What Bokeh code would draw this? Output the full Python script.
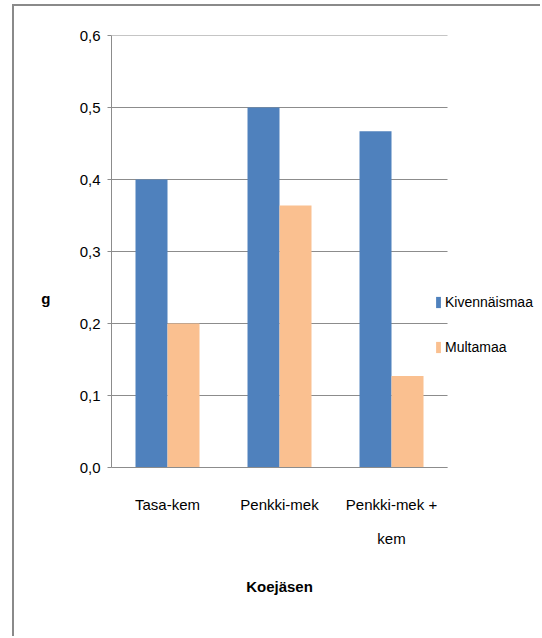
from bokeh.plotting import figure
from bokeh.models import (Range1d, FixedTicker, CustomJSTickFormatter,
                          LinearAxis, Legend, LegendItem)
from bokeh.transform import dodge
from bokeh.embed import file_html
from bokeh.resources import INLINE

# Data
categories = ["Tasa-kem", "Penkki-mek", "Penkki-mek +\nkem"]
kivennaismaa = [0.40, 0.50, 0.467]
multamaa = [0.20, 0.364, 0.127]
series_names = ["Kivennäismaa", "Multamaa"]
y_ticks = [0.0, 0.1, 0.2, 0.3, 0.4, 0.5, 0.6]
y_title = "g"
x_title = "Koejäsen"

FONT = "Liberation Sans"
GRID = "#8c8c8c"
BLUE = "#4f81bd"
ORANGE = "#fac090"

n = len(categories)
positions = [i + 0.5 for i in range(n)]   # category centres on the x scale
x_end = n + 0.848                         # room on the right for the legend

p = figure(
    width=528, height=632,
    x_range=Range1d(0, x_end),
    y_range=Range1d(0, 0.6),
    output_backend="svg", toolbar_location=None,
    min_border_left=97, min_border_right=0,
    min_border_top=29, min_border_bottom=171,
)
# chart-area frame: top and left edges only
p.styles = {"border-top": "2px solid #8a8a8a", "border-left": "2px solid #8a8a8a",
            "margin-left": "12px", "margin-top": "4px"}
p.outline_line_color = None
p.background_fill_color = "white"
p.border_fill_color = "white"

bar_w = 0.2857
src = dict(pos=positions, k=kivennaismaa, m=multamaa)

# Horizontal gridlines limited to the category span
p.xgrid.visible = False
p.ygrid.visible = False
p.segment(x0=0, x1=n, y0=y_ticks, y1=y_ticks, line_color=GRID, line_width=1)

r1 = p.vbar(x=dodge("pos", -bar_w / 2), top="k", width=bar_w,
            source=src, fill_color=BLUE, line_color=None)
r2 = p.vbar(x=dodge("pos", bar_w / 2), top="m", width=bar_w,
            source=src, fill_color=ORANGE, line_color=None)

# Y axis
p.yaxis.ticker = FixedTicker(ticks=y_ticks)
p.yaxis.formatter = CustomJSTickFormatter(code="return tick.toFixed(1).replace('.', ',');")
p.yaxis.axis_line_color = GRID
p.yaxis.major_tick_line_color = GRID
p.yaxis.major_tick_in = 0
p.yaxis.major_tick_out = 4
p.yaxis.minor_tick_line_color = None
p.yaxis.major_label_standoff = 7
p.yaxis.major_label_text_font = FONT
p.yaxis.major_label_text_font_size = "15px"
p.yaxis.major_label_text_color = "black"

# Y title as a horizontal label beside the axis
y_title_axis = LinearAxis(
    ticker=FixedTicker(ticks=[0.235]),
    formatter=CustomJSTickFormatter(args=dict(t=y_title), code="return t;"),
    axis_line_color=None, major_tick_line_color=None, minor_tick_line_color=None,
    major_label_standoff=20, major_label_text_font=FONT,
    major_label_text_font_size="15px", major_label_text_font_style="bold",
    major_label_text_color="black",
)
p.add_layout(y_title_axis, "left")

# X axis with category names
p.xaxis.bounds = (0, n)
p.xaxis.ticker = FixedTicker(ticks=positions, minor_ticks=[])
p.xaxis.formatter = CustomJSTickFormatter(args=dict(cats=categories),
                                          code="return cats[Math.round(tick - 0.5)];")
p.xaxis.axis_line_color = GRID
p.xaxis.major_tick_line_color = None
p.xaxis.minor_tick_line_color = None
p.xaxis.major_label_standoff = 22
p.xaxis.major_label_text_font = FONT
p.xaxis.major_label_text_font_size = "15px"
p.xaxis.major_label_text_color = "black"
p.xaxis.major_label_text_line_height = 2.0

# X title centred under the category span
x_title_axis = LinearAxis(
    ticker=FixedTicker(ticks=[n / 2]),
    formatter=CustomJSTickFormatter(args=dict(t=x_title), code="return t;"),
    axis_line_color=None, major_tick_line_color=None, minor_tick_line_color=None,
    major_label_standoff=22, major_label_text_font=FONT,
    major_label_text_font_size="15px", major_label_text_font_style="bold",
    major_label_text_color="black",
)
p.add_layout(x_title_axis, "below")

# Legend at the right edge of the category span
legend = Legend(
    items=[LegendItem(label=series_names[0], renderers=[r1]),
           LegendItem(label=series_names[1], renderers=[r2])],
    location=(324, 112),
    glyph_width=6, glyph_height=14, label_standoff=4, spacing=29,
    padding=0, margin=0, border_line_color=None, background_fill_alpha=0,
    label_text_font=FONT, label_text_font_size="14px", label_text_color="black",
)
p.add_layout(legend)

open("out.html", "w").write(file_html(p, INLINE))
